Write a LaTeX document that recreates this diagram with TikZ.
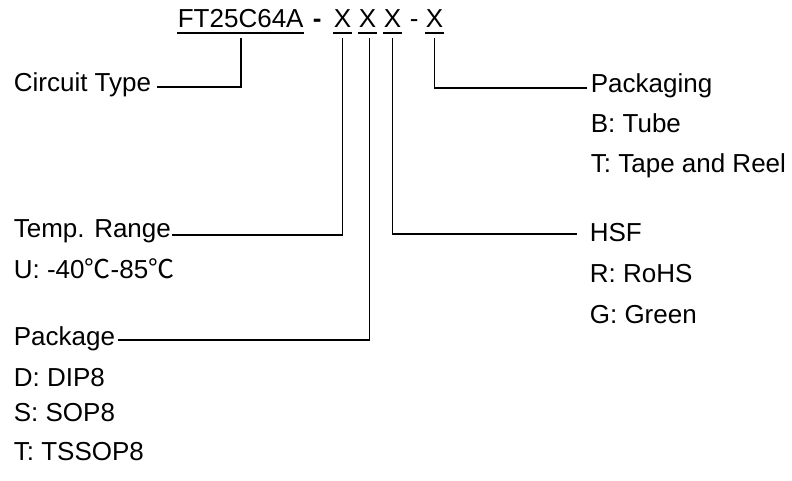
\documentclass[tikz,border=0pt]{standalone}
\usepackage{fontspec}
\setmainfont{Liberation Sans}
\newfontfamily\cjk{Noto Sans CJK SC}
\newcommand{\degc}{{\cjk ℃}}

\begin{document}
\begin{tikzpicture}[x=0.5pt,y=-0.5pt,line width=0.85pt,
   every node/.style={inner sep=0pt,font=\fontsize{13}{15}\selectfont},
   lbl/.style={anchor=base west},
   code/.style={anchor=base west},
   uline/.style={line width=0.9pt}]
   \useasboundingbox (0,0) rectangle (792,481);
   % part number
   \node[code] (pn)    at (177,28) {FT25C64A};
   \node[code] (dashA) at (312,28) {\textbf{-}};
   \node[code] (xa)    at (333,28) {X};
   \node[code] (xb)    at (358,28) {X};
   \node[code] (xc)    at (383,28) {X};
   \node[code] (dashB) at (409,28) {-};
   \node[code] (xd)    at (425,28) {X};
   \foreach \n in {pn,xa,xb,xc,xd}
      \draw[uline] ([yshift=-2pt]\n.south west) -- ([yshift=-2pt]\n.south east);
   % fields
   \node[lbl] (circ) at (13,92)  {Circuit Type};
   \node[lbl] (temp) at (13,237) {Temp. Range};
   \node[lbl] (tempU) at (13,278) {U: -40\degc-85\degc};
   \node[lbl] (pack) at (13,345) {Package};
   \node[lbl] (packD) at (13,386) {D: DIP8};
   \node[lbl] (packS) at (13,421) {S: SOP8};
   \node[lbl] (packT) at (13,460) {T: TSSOP8};
   \node[lbl] (hsf)  at (589,241) {HSF};
   \node[lbl] (hsfR) at (589,282) {R: RoHS};
   \node[lbl] (hsfG) at (589,323) {G: Green};
   \node[lbl] (pkg)  at (590,93)  {Packaging};
   \node[lbl] (pkgB) at (590,133) {B: Tube};
   \node[lbl] (pkgT) at (590,172) {T: Tape and Reel};
   % connectors
   \draw ([yshift=-4.5pt]pn.south) |- ([xshift=2.5pt]circ.mid east);
   \draw ([yshift=-4.5pt]xa.south) |- ([yshift=-1.5pt]temp.mid east);
   \draw ([xshift=1pt,yshift=-4.5pt]xb.south) |- ([xshift=1pt]pack.mid east);
   \draw ([yshift=-4.5pt]xc.south) |- ([xshift=-6pt,yshift=1pt]hsf.mid west);
   \draw ([yshift=-4.5pt]xd.south) |- ([xshift=-1.5pt]pkg.mid west);
\end{tikzpicture}
\end{document}
